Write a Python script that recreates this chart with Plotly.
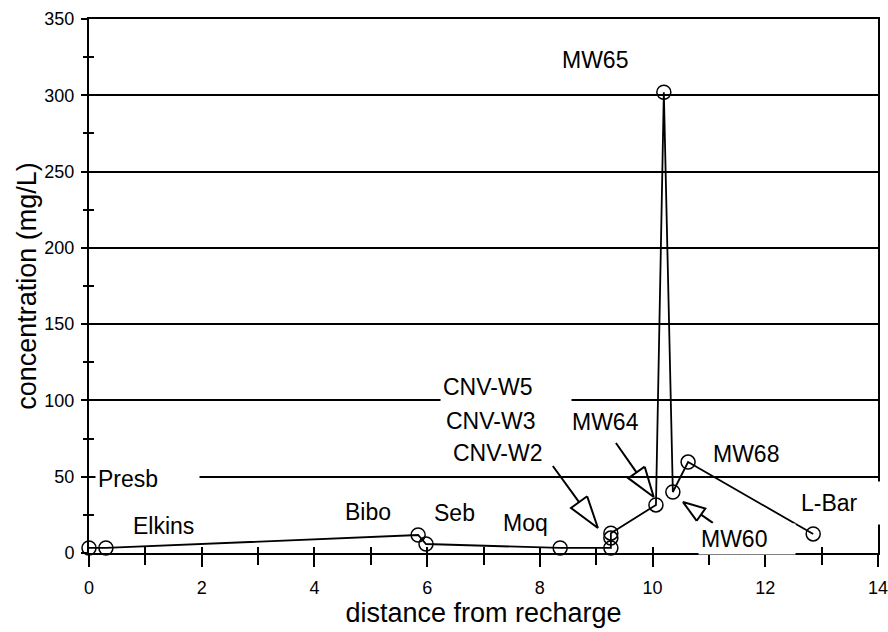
import math
import plotly.graph_objects as go

# ---------------- data ----------------
wells = ["Presb", "Elkins", "Bibo", "Seb", "Moq", "CNV-W2", "CNV-W3", "CNV-W5",
         "MW64", "MW65", "MW60", "MW68", "L-Bar"]
distance = [0.0, 0.3, 5.84, 5.98, 8.36, 9.26, 9.26, 9.26, 10.06, 10.2, 10.36, 10.63, 12.85]
concentration = [3.3, 3.3, 11.8, 5.9, 3.3, 3.3, 9.8, 13.0, 31.5, 302.0, 40.0, 59.6, 12.5]

x_tick_vals = [0, 2, 4, 6, 8, 10, 12, 14]
x_tick_text = ["0", "2", "4", "6", "8", "10", "12", "14"]
y_tick_vals = [0, 50, 100, 150, 200, 250, 300, 350]
y_tick_text = ["0", "50", "100", "150", "200", "250", "300", "350"]

# label annotations (text, x, y)
label_text = ["Elkins", "Bibo", "Seb", "Moq", "CNV-W2", "CNV-W3", "MW64", "MW65", "MW68"]
label_x = [1.33, 4.95, 6.48, 7.74, 7.24, 7.13, 9.16, 8.98, 11.66]
label_y = [17.7, 27.0, 26.0, 19.7, 65.5, 86.5, 86.0, 323.0, 65.0]

# labels drawn on white boxes (text, left x, centre y, box width px, box height px)
boxed_text = ["Presb", "CNV-W5", "MW60", "L-Bar"]
boxed_x = [0.1, 6.23, 10.8, 12.58]
boxed_y = [48.5, 109.0, 9.2, 32.8]
boxed_w = [99, 126, 92, 84]
boxed_h = [28, 28, 26, 38]

# arrows (tail -> tip), head sizes in px
arrow_tail_x = [8.23, 9.35, 11.07]
arrow_tail_y = [57.0, 72.1, 19.7]
arrow_tip_x = [9.03, 10.02, 10.54]
arrow_tip_y = [16.4, 36.7, 33.4]
arrow_head_len = [32, 30, 22]
arrow_head_w = [20, 20, 15]

# ---------------- layout constants ----------------
W, H = 888, 632
ML, MR, MT, MB = 89, 10, 19, 79
X_RANGE = [0, 14]
Y_RANGE = [0, 350]
sx = (W - ML - MR) / (X_RANGE[1] - X_RANGE[0])
sy = (H - MT - MB) / (Y_RANGE[1] - Y_RANGE[0])

FONT = "Liberation Sans, Arial, Helvetica, sans-serif"

fig = go.Figure()

fig.add_trace(go.Scatter(
    x=distance, y=concentration, mode="lines+markers",
    line=dict(color="black", width=1.8),
    marker=dict(symbol="circle-open", size=14, color="black", line=dict(width=1.5)),
    text=wells, hoverinfo="text+x+y", showlegend=False, cliponaxis=False))

# hollow triangle arrows
def arrow_coords(tx, ty, px, py, head_len, head_w):
    dx = (px - tx) * sx
    dy = (py - ty) * sy
    L = math.hypot(dx, dy)
    ux, uy = dx / L, dy / L
    nx, ny = -uy, ux
    bx, by = -ux * head_len, -uy * head_len
    base = (px + bx / sx, py + by / sy)
    c1 = (px + (bx + nx * head_w / 2) / sx, py + (by + ny * head_w / 2) / sy)
    c2 = (px + (bx - nx * head_w / 2) / sx, py + (by - ny * head_w / 2) / sy)
    xs = [tx, base[0], None, c1[0], px, c2[0], c1[0]]
    ys = [ty, base[1], None, c1[1], py, c2[1], c1[1]]
    return xs, ys

for tx, ty, px, py, hl, hw in zip(arrow_tail_x, arrow_tail_y, arrow_tip_x, arrow_tip_y,
                                  arrow_head_len, arrow_head_w):
    xs, ys = arrow_coords(tx, ty, px, py, hl, hw)
    fig.add_trace(go.Scatter(x=xs, y=ys, mode="lines",
                             line=dict(color="black", width=2),
                             hoverinfo="skip", showlegend=False, cliponaxis=False))

# dummy trace for overlay axes (inside half of crossing ticks)
fig.add_trace(go.Scatter(x=[None], y=[None], xaxis="x2", yaxis="y2",
                         showlegend=False, hoverinfo="skip"))

for t, x, y in zip(label_text, label_x, label_y):
    fig.add_annotation(x=x, y=y, text=t, showarrow=False,
                       xanchor="center", yanchor="middle",
                       font=dict(family=FONT, size=23, color="black"))

for t, x, y, w, h in zip(boxed_text, boxed_x, boxed_y, boxed_w, boxed_h):
    fig.add_annotation(x=x, y=y, text=t, showarrow=False,
                       xanchor="left", yanchor="middle", align="left",
                       width=w, height=h, bgcolor="white", borderpad=2,
                       font=dict(family=FONT, size=23, color="black"))

fig.update_layout(
    width=W, height=H,
    margin=dict(l=ML, r=MR, t=MT, b=MB, autoexpand=False),
    paper_bgcolor="white", plot_bgcolor="white",
    font=dict(family=FONT, color="black"),
    xaxis=dict(
        range=X_RANGE, tickvals=x_tick_vals, ticktext=x_tick_text,
        ticks="outside", ticklen=12, tickwidth=1.5, tickcolor="black",
        minor=dict(dtick=1, ticks="outside", ticklen=10, tickwidth=1.5, tickcolor="black"),
        showline=True, linecolor="black", linewidth=2, mirror=True,
        showgrid=False, zeroline=False, automargin=False,
        tickfont=dict(family=FONT, size=18, color="black"),
        ticklabelstandoff=5, ticklabeloverflow="allow",
        title=dict(text="distance from recharge", font=dict(family=FONT, size=27, color="black"),
                   standoff=0),
    ),
    xaxis2=dict(
        range=X_RANGE, overlaying="x", anchor="y", side="bottom", dtick=1,
        ticks="inside", ticklen=6, tickwidth=1.5, tickcolor="black",
        showticklabels=False, showgrid=False, zeroline=False, showline=False,
    ),
    yaxis=dict(
        range=Y_RANGE, tickvals=y_tick_vals, ticktext=y_tick_text,
        ticks="outside", ticklen=6, tickwidth=1.5, tickcolor="black",
        minor=dict(dtick=25, ticks="outside", ticklen=4, tickwidth=1.5, tickcolor="black"),
        showline=True, linecolor="black", linewidth=2, mirror=True,
        showgrid=True, gridcolor="black", gridwidth=1.6, zeroline=False, automargin=False,
        tickfont=dict(family=FONT, size=18, color="black"),
        ticklabelstandoff=3, ticklabeloverflow="allow",
        title=dict(text="concentration (mg/L)", font=dict(family=FONT, size=27, color="black"),
                   standoff=0),
    ),
    yaxis2=dict(
        range=Y_RANGE, overlaying="y", anchor="x", side="left", dtick=25,
        ticks="inside", ticklen=5, tickwidth=1.5, tickcolor="black",
        showticklabels=False, showgrid=False, zeroline=False, showline=False,
    ),
)

fig.write_html("out.html", config={"displayModeBar": False},
               post_script="document.body.style.margin='0';document.body.style.overflow='hidden';")
